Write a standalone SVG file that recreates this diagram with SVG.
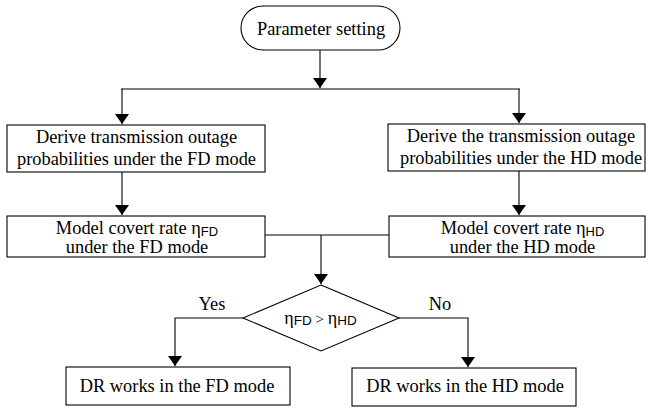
<svg xmlns="http://www.w3.org/2000/svg" width="650" height="412" viewBox="0 0 650 412">
<defs>
<marker id="ah" viewBox="0 0 10 14" refX="10" refY="7" markerWidth="10" markerHeight="14" markerUnits="userSpaceOnUse" orient="auto">
<path d="M0,0 L10,7 L0,14 Z" fill="#000"/>
</marker>
<style>
.box{fill:#fff;stroke:#000;stroke-width:1.1}
.t{font-family:"Liberation Serif","Times New Roman",serif;font-size:18.4px;fill:#000;text-anchor:middle}
.s{font-family:"Liberation Sans",Arial,sans-serif;font-size:13px}
.c{fill:none;stroke:#000;stroke-width:1.1}
</style>
</defs>
<rect width="650" height="412" fill="#fff"/>
<g id="connectors">
<line class="c" x1="320" y1="50" x2="320" y2="88" marker-end="url(#ah)"/>
<line class="c" x1="121" y1="89" x2="520" y2="89"/>
<line class="c" x1="122" y1="89" x2="122" y2="124" marker-end="url(#ah)"/>
<line class="c" x1="519" y1="89" x2="519" y2="123" marker-end="url(#ah)"/>
<line class="c" x1="122" y1="172" x2="122" y2="215" marker-end="url(#ah)"/>
<line class="c" x1="519" y1="171" x2="519" y2="215" marker-end="url(#ah)"/>
<polyline class="c" points="265,235 389,235"/>
<line class="c" x1="321" y1="235" x2="321" y2="284" marker-end="url(#ah)"/>
<polyline class="c" points="243,318 175,318 175,366" marker-end="url(#ah)"/>
<polyline class="c" points="399,318 468,318 468,367" marker-end="url(#ah)"/>
<text class="t" x="212" y="310">Yes</text>
<text class="t" x="440" y="310">No</text>
</g>
<g id="start">
<rect class="box" x="241" y="6" width="159" height="44" rx="22"/>
<text class="t" x="321" y="35">Parameter setting</text>
</g>
<g id="fd-outage">
<rect class="box" x="7" y="125" width="258" height="47"/>
<text class="t" x="136.5" y="142.5">Derive transmission outage</text>
<text class="t" x="136.5" y="164.5">probabilities under the FD mode</text>
</g>
<g id="hd-outage">
<rect class="box" x="388" y="124" width="257" height="47"/>
<text class="t" x="521" y="141.5">Derive the transmission outage</text>
<text class="t" x="521" y="163.5">probabilities under the HD mode</text>
</g>
<g id="fd-rate">
<rect class="box" x="7" y="216" width="258" height="41"/>
<text class="t" x="137" y="234">Model covert rate η<tspan class="s" dy="2">FD</tspan></text>
<text class="t" x="137" y="252.5">under the FD mode</text>
</g>
<g id="hd-rate">
<rect class="box" x="389" y="216" width="256" height="41"/>
<text class="t" x="522.5" y="234">Model covert rate η<tspan class="s" dy="2">HD</tspan></text>
<text class="t" x="522.5" y="252.5">under the HD mode</text>
</g>
<g id="decision">
<polygon class="box" points="321,285 399,318 321,351 243,318"/>
<text class="t" x="320.5" y="324" style="font-size:18px">η<tspan class="s" style="font-size:13.5px" dy="1">FD</tspan><tspan style="font-size:15px" dy="-1"> &gt; </tspan>η<tspan class="s" style="font-size:13.5px" dy="1">HD</tspan></text>
</g>
<g id="fd-result">
<rect class="box" x="66" y="367" width="224" height="38"/>
<text class="t" x="177" y="392">DR works in the FD mode</text>
</g>
<g id="hd-result">
<rect class="box" x="352" y="368" width="224" height="38"/>
<text class="t" x="465" y="392">DR works in the HD mode</text>
</g>
</svg>
